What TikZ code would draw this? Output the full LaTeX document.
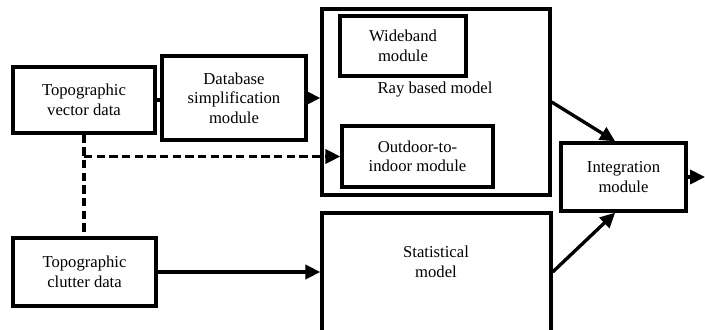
\documentclass[tikz,border=0pt]{standalone}
\usepackage{fontspec}
\setmainfont{Liberation Serif}
\usetikzlibrary{arrows.meta}

\begin{document}
\begin{tikzpicture}[x=0.6pt, y=-0.6pt,
% Estilo de los textos
texto/.style={align=center, inner sep=0pt, font=\fontsize{10}{11.7}\selectfont},
% Estilo de las cajas
caja/.style={texto, draw, line width=2pt},
% Estilo de las flechas
flecha/.style={-{Triangle[length=9pt,width=8.5pt]}, line width=2pt},
linea/.style={line width=2pt},
discont/.style={line width=2pt, dash pattern=on 5pt off 2.6pt},
]
\useasboundingbox (0,0) rectangle (705,330);
\clip (0,0) rectangle (705,330);

% Nodos
\node[caja, minimum width=85.2pt, minimum height=39.6pt] (vec) at (84,100) {Topographic\\vector data};
\node[caja, minimum width=86.4pt, minimum height=50.4pt] (db) at (234,98) {Database\\simplification\\module};
\node[caja, minimum width=136.8pt, minimum height=111.6pt] (ray) at (436,102) {};
\node[caja, minimum width=75.6pt, minimum height=36pt] (wide) at (403,46) {Wideband\\module};
\node[texto] (raytxt) at (435,90) {Ray based model};
\node[caja, minimum width=90.6pt, minimum height=36.6pt] (out) at (417.5,156.5) {Outdoor-to-\\indoor module};
\node[caja, minimum width=75pt, minimum height=40.8pt] (integ) at (623.5,177) {Integration\\module};
\node[caja, minimum width=85.8pt, minimum height=40.8pt] (clut) at (84.5,272) {Topographic\\clutter data};
\node[caja, minimum width=137.4pt, minimum height=76.2pt] (stat) at (436.5,276.5) {};
\node[texto] (stattxt) at (436,262) {Statistical\\model};

% Flechas
\draw[linea] (vec.east) -- (vec.east -| db.west);
\draw[flecha] (db.east) -- (db.east -| ray.west);
\coordinate (rama) at (vec.south |- out.west);
\draw[discont] (vec.south) -- (vec.south |- clut.north);
\draw[flecha, discont] (rama) -- (out.west);
\draw[flecha] (clut.east) -- (clut.east -| stat.west);
\draw[flecha] (ray.east) -- ([xshift=-5pt]integ.north);
\draw[flecha] (stat.east |- clut.east) -- ([xshift=-5pt]integ.south);
\coordinate (salida) at (705,177);
\draw[flecha] (integ.east) -- (salida);
\end{tikzpicture}
\end{document}
